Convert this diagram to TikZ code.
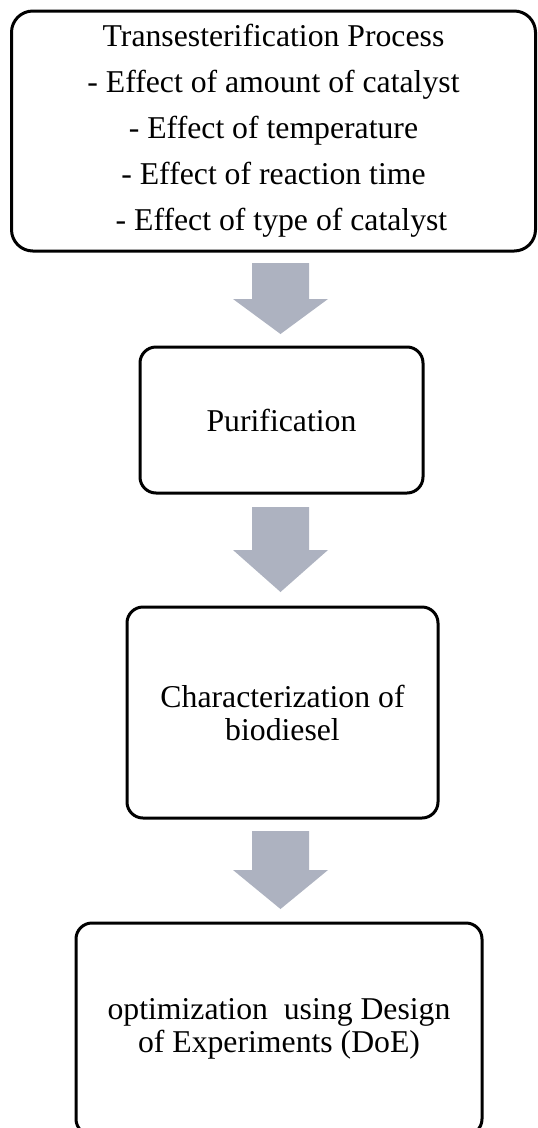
\documentclass[tikz,border=0pt]{standalone}
\usepackage{fontspec}
\setmainfont{Liberation Serif}
\definecolor{arrowgray}{RGB}{173,178,192}
\begin{document}
\begin{tikzpicture}[x=0.75pt,y=-0.75pt,
  box/.style={draw=black, line width=2.25pt, rounded corners=12pt, align=center, inner sep=0pt,
    font=\fontsize{23.8}{24.75}\selectfont},
  blockarrow/.style={fill=arrowgray, draw=none}]
\useasboundingbox (0,0) rectangle (537,1128);
% boxes
\node[box, rounded corners=16pt, minimum width=393pt, minimum height=180pt,
  font=\fontsize{23.8}{34.5}\selectfont] (b1) at (273.5,131)
  {Transesterification Process\\- Effect of amount of catalyst\\- Effect of temperature\\- Effect of reaction time\\\hspace*{12pt}- Effect of type of catalyst};
\node[box, minimum width=212.25pt, minimum height=109.5pt] (b2) at (281.5,420) {Purification};
\node[box, minimum width=233.25pt, minimum height=158.25pt] (b3) at (282.5,712.5) {Characterization of\\biodiesel};
\node[box, minimum width=304.5pt, minimum height=159pt] (b4) at (279,1029) {optimization\ \ using Design\\of Experiments (DoE)};
% block arrows
\coordinate (a1) at (280.5,263);
\coordinate (a2) at (280.5,507);
\coordinate (a3) at (280.5,831);
\fill[blockarrow] (a1) ++(-28.5,0) -- ++(57,0) -- ++(0,36) -- ++(19,0) -- ++(-47.5,35) -- ++(-47.5,-35) -- ++(19,0) -- cycle;
\fill[blockarrow] (a2) ++(-28.5,0) -- ++(57,0) -- ++(0,43) -- ++(19,0) -- ++(-47.5,42) -- ++(-47.5,-42) -- ++(19,0) -- cycle;
\fill[blockarrow] (a3) ++(-28.5,0) -- ++(57,0) -- ++(0,39) -- ++(19,0) -- ++(-47.5,39) -- ++(-47.5,-39) -- ++(19,0) -- cycle;
\end{tikzpicture}
\end{document}
